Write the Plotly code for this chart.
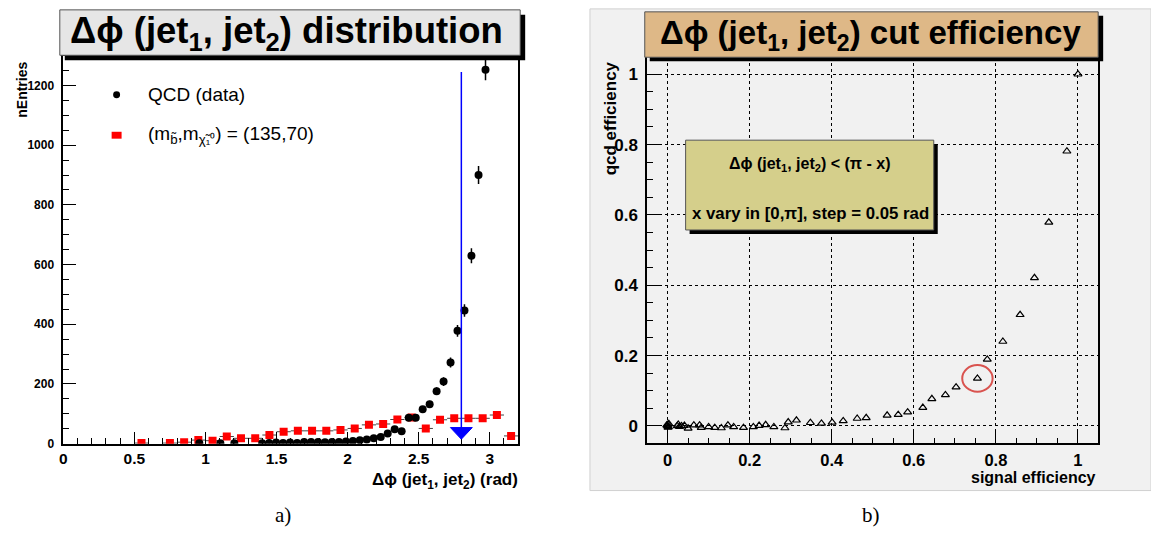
import plotly.graph_objects as go

W, H = 1151, 540

# ---------------- data (left panel) ----------------
qcd_x = [0.957, 1.105, 1.203, 1.399, 1.448, 1.497, 1.546, 1.595, 1.645, 1.694,
         1.743, 1.792, 1.841, 1.890, 1.939, 1.988, 2.037, 2.086, 2.135, 2.184,
         2.233, 2.282, 2.331, 2.380, 2.430, 2.479, 2.528, 2.577, 2.626, 2.675,
         2.724, 2.773, 2.822, 2.871, 2.921, 2.970]
qcd_y = [1.5, 1.5, 1.5, 1.5, 2, 4, 2, 4, 2, 6,
         6, 6, 5, 6, 6, 7, 9, 11.5, 14, 18,
         22, 34, 48, 42, 87, 87, 115, 132, 176, 208,
         272, 378, 446, 630, 900, 1253]
qcd_err = [1.2, 1.2, 1.2, 1.2, 1.4, 2.0, 1.4, 2.0, 1.4, 2.4,
           2.4, 2.4, 2.2, 2.4, 2.4, 2.6, 3.0, 3.4, 3.7, 4.2,
           4.7, 5.8, 6.9, 6.5, 9.3, 9.3, 10.7, 11.5, 13.3, 14.4,
           16.5, 19.4, 21.1, 25.1, 30.0, 35.4]

sig_x = [0.55, 0.75, 0.85, 0.95, 1.05, 1.15, 1.25, 1.35, 1.45, 1.55,
         1.65, 1.75, 1.85, 1.95, 2.05, 2.15, 2.25, 2.35, 2.45, 2.55,
         2.65, 2.75, 2.85, 2.95, 3.05, 3.15]
sig_y = [2, 2, 5, 12, 10, 24, 18, 18, 29, 40,
         43, 43, 43, 46, 51, 63, 66, 81, 88, 51,
         80, 85, 85, 85, 96, 26]
sig_halfwidth = 0.05

cut_value = 2.8
cut_top = 1245

x_ticks_a = [0, 0.5, 1, 1.5, 2, 2.5, 3]
y_ticks_a = [0, 200, 400, 600, 800, 1000, 1200]

# ---------------- data (right panel) ----------------
sig_eff = [0.0, 0.001, 0.002, -0.002, 0.003, 0.001, 0.0235, 0.026, 0.029, 0.034,
           0.041, 0.050, 0.064, 0.078, 0.082, 0.100, 0.115, 0.131, 0.147, 0.161,
           0.185, 0.209, 0.223, 0.239, 0.259, 0.286, 0.294, 0.314, 0.348, 0.375,
           0.401, 0.428, 0.462, 0.484, 0.535, 0.562, 0.585, 0.622, 0.644, 0.677,
           0.703, 0.755, 0.779, 0.817, 0.859, 0.894, 0.929, 0.973, 1.0]
qcd_eff = [0.0, 0.004, -0.003, 0.002, 0.006, -0.004, 0.0, 0.004, -0.002, 0.0,
           0.001, -0.007, 0.002, 0.002, -0.005, -0.003, -0.005, -0.006, 0.002, -0.003,
           -0.005, -0.003, 0.001, 0.003, -0.003, -0.006, 0.011, 0.016, 0.009, 0.007,
           0.010, 0.014, 0.021, 0.023, 0.030, 0.032, 0.039, 0.052, 0.077, 0.088,
           0.110, 0.135, 0.189, 0.240, 0.316, 0.421, 0.579, 0.781, 1.0]
highlight = (0.755, 0.135)

ticks_b = [0, 0.2, 0.4, 0.6, 0.8, 1]

# ---------------- helpers ----------------
def px(x):
    return x / W

def py(y):
    return 1 - y / H

SANS = "Liberation Sans, Arial, sans-serif"
NARROW = "Liberation Sans Narrow, Arial Narrow, Liberation Sans, sans-serif"
SERIF = "Liberation Serif, Times New Roman, serif"

fig = go.Figure()

fig.add_trace(go.Scatter(
    x=sig_x, y=sig_y, mode="markers", xaxis="x", yaxis="y",
    marker=dict(symbol="square", size=8, color="#ff0000"),
    error_x=dict(type="constant", value=sig_halfwidth, color="#444444",
                 thickness=1, width=0),
    showlegend=False))

fig.add_trace(go.Scatter(
    x=qcd_x, y=qcd_y, mode="markers", xaxis="x", yaxis="y",
    marker=dict(symbol="circle", size=8, color="black"),
    error_y=dict(type="data", array=qcd_err, color="black", thickness=1.5, width=0),
    showlegend=False))

fig.add_trace(go.Scatter(
    x=sig_eff, y=qcd_eff, mode="markers", xaxis="x2", yaxis="y2",
    marker=dict(symbol="triangle-up-open", size=7, color="black",
                line=dict(width=1.2, color="black")),
    showlegend=False))

shapes = []
shapes.append(dict(type="rect", xref="paper", yref="paper",
                   x0=px(588), x1=px(1151), y0=py(497), y1=py(9),
                   fillcolor="#f1f1f1", line=dict(color="#d0d0d0", width=1),
                   layer="below"))

shapes.append(dict(type="line", xref="x", yref="y", x0=cut_value, x1=cut_value,
                   y0=cut_top, y1=40, line=dict(color="#0000ff", width=1.5)))
shapes.append(dict(type="path", xref="x", yref="y",
                   path=f"M {cut_value-0.077},54 L {cut_value+0.077},54 L {cut_value},15 Z",
                   fillcolor="#0000ff", line=dict(color="#0000ff", width=1)))

shapes.append(dict(type="rect", xref="paper", yref="paper",
                   x0=px(61), x1=px(523), y0=py(61), y1=py(15),
                   fillcolor="black", line=dict(width=0), layer="above"))
shapes.append(dict(type="rect", xref="paper", yref="paper",
                   x0=px(56), x1=px(518), y0=py(56), y1=py(10),
                   fillcolor="#e6e6e6", line=dict(color="#555555", width=1), layer="above"))

shapes.append(dict(type="rect", xref="paper", yref="paper",
                   x0=px(648), x1=px(1103), y0=py(62), y1=py(16),
                   fillcolor="black", line=dict(width=0), layer="above"))
shapes.append(dict(type="rect", xref="paper", yref="paper",
                   x0=px(643), x1=px(1098), y0=py(58), y1=py(12),
                   fillcolor="#deb887", line=dict(color="#555555", width=1), layer="above"))

shapes.append(dict(type="rect", xref="paper", yref="paper",
                   x0=px(688), x1=px(937), y0=py(237), y1=py(146),
                   fillcolor="black", line=dict(width=0), layer="above"))
shapes.append(dict(type="rect", xref="paper", yref="paper",
                   x0=px(684), x1=px(933), y0=py(233), y1=py(142),
                   fillcolor="#d5cf8b", line=dict(color="#555555", width=1), layer="above"))

shapes.append(dict(type="circle", xref="paper", yref="paper",
                   x0=px(109.5), x1=px(116.5), y0=py(99.5), y1=py(92.5),
                   fillcolor="black", line=dict(width=0)))
shapes.append(dict(type="rect", xref="paper", yref="paper",
                   x0=px(108), x1=px(118), y0=py(140.5), y1=py(133.5),
                   fillcolor="#ff0000", line=dict(width=0)))

hx, hy = highlight
shapes.append(dict(type="circle", xref="x2", yref="y2",
                   x0=hx - 0.037, x1=hx + 0.037, y0=hy - 0.038, y1=hy + 0.038,
                   line=dict(color="#d9534f", width=2)))

ann = []
def add_text(text, x, y, size, family=SANS, xanchor="center", yanchor="middle",
             angle=0, color="black"):
    ann.append(dict(text=text, x=px(x), y=py(y), xref="paper", yref="paper",
                    xanchor=xanchor, yanchor=yanchor, showarrow=False,
                    textangle=angle, font=dict(family=family, size=size, color=color)))

add_text("<b>Δϕ (jet<sub>1</sub>, jet<sub>2</sub>) distribution</b>", 283, 33, 36.5)
add_text("<b>nEntries</b>", 18, 91, 14, angle=-90)
add_text("<b>Δϕ (jet<sub>1</sub>, jet<sub>2</sub>) (rad)</b>", 518, 487, 17, xanchor="right")
add_text("QCD (data)", 142, 96, 19, xanchor="left")
add_text("(m<sub>b̃</sub>,m<sub>χ̃₁⁰</sub>) = (135,70)", 142, 137, 19, xanchor="left")

add_text("<b>Δϕ (jet<sub>1</sub>, jet<sub>2</sub>) cut efficiency</b>", 870, 35, 33, family=NARROW)
add_text("<b>Δϕ (jet<sub>1</sub>, jet<sub>2</sub>) &lt; (π - x)</b>", 809, 167, 16, family=NARROW)
add_text("<b>x vary in [0,π], step = 0.05 rad</b>", 809, 216, 16.8, family=NARROW)
add_text("<b>qcd efficiency</b>", 609, 120, 17, family=NARROW, angle=-90)
add_text("<b>signal efficiency</b>", 1098, 484, 16, family=NARROW, xanchor="right")

add_text("a)", 280, 522, 21, family=SERIF)
add_text("b)", 870, 522, 21, family=SERIF)

axis_common = dict(showline=True, linecolor="black", mirror=True, zeroline=False,
                   ticks="inside", tickcolor="black")

fig.update_layout(
    width=W, height=H, autosize=False,
    margin=dict(l=0, r=0, t=0, b=0),
    paper_bgcolor="white", plot_bgcolor="rgba(0,0,0,0)",
    shapes=shapes, annotations=ann,
    xaxis=dict(domain=[px(59.5), px(516)], range=[0, 3.2], anchor="y",
               tickvals=x_ticks_a, ticktext=[f"{v:g}" for v in x_ticks_a],
               ticklen=12, tickwidth=1, linewidth=1.5, showgrid=False,
               ticklabelstandoff=0,
               minor=dict(dtick=0.1, tick0=0, ticklen=6, ticks="inside", tickcolor="black"),
               tickfont=dict(family=SANS, size=15.5, weight="bold", color="black"),
               **axis_common),
    yaxis=dict(domain=[py(449.5), py(57)], range=[0, 1298], anchor="x",
               tickvals=y_ticks_a, ticktext=[f"{v:g}" for v in y_ticks_a],
               ticklen=13, tickwidth=1, linewidth=1.5, showgrid=False,
               ticklabelstandoff=5,
               minor=dict(dtick=50, tick0=0, ticklen=6, ticks="inside", tickcolor="black"),
               tickfont=dict(family=SANS, size=12, weight="bold", color="black"),
               **axis_common),
    xaxis2=dict(domain=[px(645.3), px(1098.3)], range=[-0.05, 1.05], anchor="y2",
                tickvals=ticks_b, ticktext=[f"{v:g}" for v in ticks_b],
                ticklen=12, tickwidth=1, linewidth=1.5,
                showgrid=True, gridcolor="black", griddash="dot", gridwidth=1,
                ticklabelstandoff=1,
                minor=dict(dtick=0.05, tick0=0, ticklen=6, ticks="inside", tickcolor="black"),
                tickfont=dict(family=NARROW, size=16.5, weight="bold", color="black"),
                **axis_common),
    yaxis2=dict(domain=[py(449.3), py(57.4)], range=[-0.05, 1.05], anchor="x2",
                tickvals=ticks_b, ticktext=[f"{v:g}" for v in ticks_b],
                ticklen=13, tickwidth=1, linewidth=1.5,
                showgrid=True, gridcolor="black", griddash="dot", gridwidth=1,
                ticklabelstandoff=4,
                minor=dict(dtick=0.05, tick0=0, ticklen=6, ticks="inside", tickcolor="black"),
                tickfont=dict(family=NARROW, size=17, weight="bold", color="black"),
                **axis_common),
)

post = ("document.documentElement.style.margin='0px';"
        "document.body.style.margin='0px';"
        "document.body.style.padding='0px';")

fig.write_html("out.html", config={"displayModeBar": False}, post_script=post)
